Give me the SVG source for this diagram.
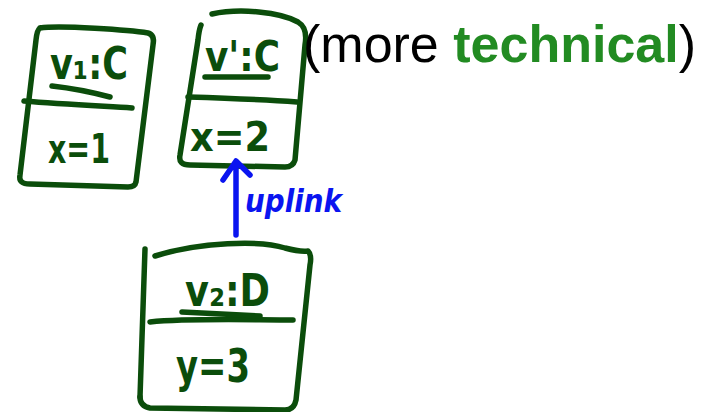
<svg xmlns="http://www.w3.org/2000/svg" width="709" height="412" viewBox="0 0 709 412">
<style>
.ink{fill:none;stroke:#0b4d0b;stroke-width:5.5;stroke-linecap:round;stroke-linejoin:round}
.hw{fill:#0b4d0b;font-family:"DejaVu Sans",sans-serif;font-weight:bold}
.blue{fill:none;stroke:#0a14f0;stroke-width:5.5;stroke-linecap:round;stroke-linejoin:round}
.bt{fill:#0a14f0;font-family:"DejaVu Sans",sans-serif;font-weight:bold;font-style:italic}
.t{font-family:"Liberation Sans",Arial,sans-serif;font-size:52px}
</style>
<rect width="709" height="412" fill="#fff"/>
<g id="node-v1">
<path class="ink" d="M40,28 C60,25 130,30 148,33 Q155,35 153,45 L136,182 Q135,187 128,187 L30,184 Q18,184 20,175 L36,40 Q37,30 40,28"/>
<path class="ink" d="M24,101 C60,104 100,106 132,108"/>
<path class="ink" d="M52,86 C70,88 95,93 110,97"/>
<text class="hw" x="50" y="79" font-size="44" textLength="78" lengthAdjust="spacingAndGlyphs">v₁:C</text>
<text class="hw" x="48" y="163" font-size="40" textLength="62" lengthAdjust="spacingAndGlyphs">x=1</text>
</g>
<g id="node-v">
<path class="ink" d="M212,14 C240,8 280,12 298,22 Q308,28 305,45 L295,160 Q293,167 285,167 L190,165 Q178,165 180,155 L198,40 Q199,30 201,25"/>
<path class="ink" d="M188,97 C220,98 270,100 297,102"/>
<path class="ink" d="M205,77 L268,77"/>
<text class="hw" x="205" y="71" font-size="42" textLength="75" lengthAdjust="spacingAndGlyphs">v':C</text>
<text class="hw" x="190" y="151" font-size="40" textLength="80" lengthAdjust="spacingAndGlyphs">x=2</text>
</g>
<g id="node-v2">
<path class="ink" d="M145,249 L140,397"/>
<path class="ink" d="M155,256 C200,242 260,240 285,248 Q300,252 308,251 Q312,255 310,265 L296,400 Q294,410 285,410 L150,408 Q140,406 140,397"/>
<path class="ink" d="M150,322 C190,318 250,320 293,320"/>
<path class="ink" d="M182,312 L260,316"/>
<text class="hw" x="185" y="306" font-size="44" textLength="85" lengthAdjust="spacingAndGlyphs">v₂:D</text>
<text class="hw" x="176" y="382" font-size="46" textLength="74" lengthAdjust="spacingAndGlyphs">y=3</text>
</g>
<g id="connectors">
<path class="blue" d="M236,235 L236,162 M223,180 L236,161 L250,175"/>
<text class="bt" x="245" y="212" font-size="32" textLength="97" lengthAdjust="spacingAndGlyphs">uplink</text>
</g>
<g id="caption">
<text class="t" x="303" y="62" fill="#000">(more <tspan fill="#228b22" font-weight="bold">technical</tspan>)</text>
</g>
</svg>
